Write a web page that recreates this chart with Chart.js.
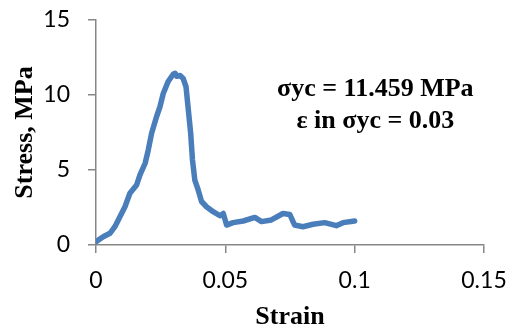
<!DOCTYPE html>
<html>
<head>
<meta charset="utf-8">
<script src="https://cdn.jsdelivr.net/npm/chart.js@4.4.1/dist/chart.umd.min.js"></script>
<style>
  html, body { margin: 0; padding: 0; background: #fff; }
</style>
</head>
<body>
<canvas id="chart" width="511" height="330"></canvas>
<script>
// values
var strain = [0, 0.0028, 0.0054, 0.0073, 0.0093, 0.0112, 0.0131, 0.0157, 0.017, 0.019,
    0.0202, 0.0215, 0.0234, 0.0247, 0.026, 0.0279, 0.0299, 0.0306, 0.0312, 0.0325,
    0.0337, 0.0348, 0.0357, 0.0366, 0.0373, 0.0382, 0.0395, 0.0408, 0.0427, 0.0453,
    0.0479, 0.0492, 0.0505, 0.053, 0.0569, 0.0614, 0.064, 0.0678, 0.0723, 0.0749,
    0.0768, 0.08, 0.0839, 0.0884, 0.0929, 0.0955, 0.1];
var stress = [0.22, 0.55, 0.78, 1.22, 1.9, 2.55, 3.45, 4.0, 4.67, 5.45,
    6.33, 7.45, 8.55, 9.2, 10.1, 10.9, 11.4, 11.45, 11.25, 11.3,
    11.1, 10.55, 9.0, 7.45, 5.67, 4.33, 3.67, 2.9, 2.55, 2.22,
    1.95, 2.1, 1.33, 1.49, 1.6, 1.84, 1.56, 1.67, 2.1, 2.04,
    1.33, 1.22, 1.38, 1.49, 1.29, 1.49, 1.6];
var xTicks = [0, 0.05, 0.1, 0.15];
var yTicks = [0, 5, 10, 15];
var noteLines = ["σyc = 11.459 MPa", "ε in σyc = 0.03"];

var axisGrey = "#878787";
var serif = "'Liberation Serif', 'Times New Roman', serif";

var points = [];
for (var i = 0; i < strain.length; i++) {
    points.push({ x: strain[i], y: stress[i] });
}

var notePlugin = {
    id: "note",
    afterDraw: function(chart) {
        var ctx = chart.ctx;
        var area = chart.chartArea;
        ctx.save();
        ctx.font = "bold 26px " + serif;
        ctx.fillStyle = "#000";
        ctx.textAlign = "center";
        ctx.textBaseline = "middle";
        var cx = area.left + (area.right - area.left) * 0.72;
        ctx.fillText(noteLines[0], cx, 89);
        ctx.fillText(noteLines[1], cx, 121);
        ctx.restore();
    }
};

var ctx = document.getElementById("chart").getContext("2d");
var myChart = new Chart(ctx, {
    type: "scatter",
    data: {
        datasets: [{
            data: points,
            showLine: true,
            borderColor: "#4a7ebb",
            borderWidth: 5.5,
            pointRadius: 0,
            tension: 0,
            borderJoinStyle: "round",
            borderCapStyle: "round"
        }]
    },
    options: {
        responsive: false,
        animation: false,
        layout: { padding: { top: 20, right: 27, bottom: 0, left: 0 } },
        plugins: {
            legend: { display: false },
            tooltip: { enabled: false }
        },
        scales: {
            x: {
                type: "linear",
                min: 0,
                max: 0.15,
                afterBuildTicks: function(scale) {
                    scale.ticks = xTicks.map(function(v) { return { value: v }; });
                },
                afterFit: function(scale) {
                    scale.height = 85;
                    scale.paddingLeft = 0;
                    scale.paddingRight = 0;
                },
                ticks: {
                    color: "#000",
                    padding: 14,
                    maxRotation: 0,
                    font: { family: "Lato", size: 23 },
                    callback: function(v) { return String(v); }
                },
                grid: {
                    drawOnChartArea: false,
                    color: axisGrey,
                    lineWidth: 1.5,
                    tickLength: 8
                },
                border: { color: axisGrey, width: 1.5 },
                title: {
                    display: true,
                    text: "Strain",
                    color: "#000",
                    padding: { top: 0, bottom: 0 },
                    font: { family: serif, size: 26, weight: "bold", lineHeight: 1 }
                }
            },
            y: {
                type: "linear",
                min: 0,
                max: 15,
                afterBuildTicks: function(scale) {
                    scale.ticks = yTicks.map(function(v) { return { value: v }; });
                },
                afterFit: function(scale) {
                    scale.width = 96;
                    scale.paddingTop = 0;
                    scale.paddingBottom = 0;
                },
                ticks: {
                    color: "#000",
                    padding: 18,
                    font: { family: "Lato", size: 23 }
                },
                grid: {
                    drawOnChartArea: false,
                    color: axisGrey,
                    lineWidth: 1.5,
                    tickLength: 8
                },
                border: { color: axisGrey, width: 1.5 },
                title: {
                    display: true,
                    text: "Stress, MPa",
                    color: "#000",
                    padding: { top: 12, bottom: 0 },
                    font: { family: serif, size: 26, weight: "bold", lineHeight: 1 }
                }
            }
        }
    },
    plugins: [notePlugin]
});
</script>
</body>
</html>
